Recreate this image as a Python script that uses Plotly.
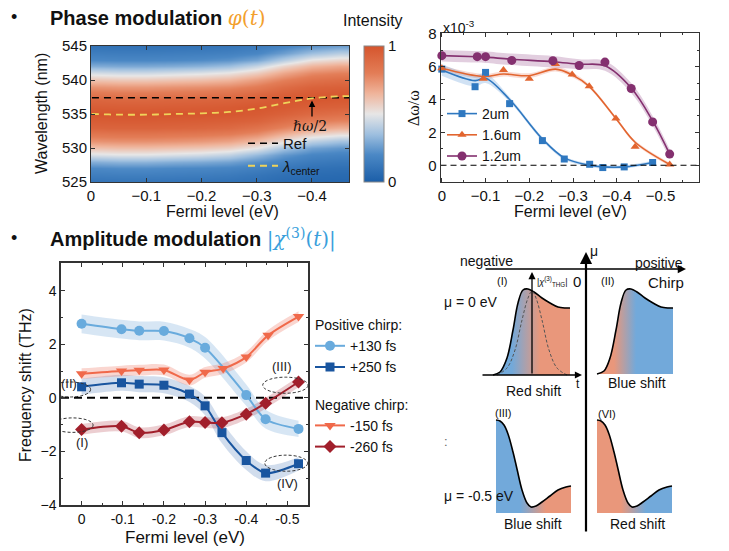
import numpy as np
import plotly.graph_objects as go

# figure fills the whole 729x551 window; the page's default body margin is removed after plotting
OFF = 0
W, H = 729, 551
FONT = "Arial, Liberation Sans, sans-serif"
SERIF = "DejaVu Serif, Liberation Serif, serif"


def px(x):
    return (x - OFF) / W


def py(y):
    return 1 - (y - OFF) / H

# ---------------- Panel 1: wavelength map vs Fermi level ----------------
fermi_map = [0.02, 0.0, -0.05, -0.10, -0.15, -0.20, -0.25, -0.30, -0.35, -0.40, -0.45, -0.50]
lambda_center = [535.0, 535.0, 534.9, 534.9, 535.0, 535.1, 535.3, 535.8, 536.6, 537.3, 537.6, 537.6]
wavelengths = list(range(521, 550))
profile_offset = [-16, -12, -10, -8, -7, -5.8, -4, -2, 0, 2, 4, 5.8, 7, 8, 10, 12, 16]
profile_val = [0.0, 0.05, 0.1, 0.2, 0.3, 0.5, 0.74, 0.92, 1.0, 0.92, 0.74, 0.5, 0.3, 0.2, 0.1, 0.05, 0.0]
ref_wavelength = 537.4

# ---------------- Panel 2: Δω/ω vs Fermi level (x10^-3) ----------------
x_2um = [0, -0.076, -0.1, -0.155, -0.23, -0.28, -0.338, -0.368, -0.417, -0.482]
y_2um = [5.85, 4.78, 5.65, 3.75, 1.5, 0.38, 0.06, -0.14, -0.1, 0.17]
fit_2um = [5.8, 5.15, 5.3, 4.0, 1.6, 0.45, 0.0, -0.1, -0.1, 0.17]
err_2um = [0.35, 0.35, 0.3, 0.15, 0.12, 0.1, 0.1, 0.1, 0.1, 0.1]

x_16um = [0, -0.095, -0.141, -0.2, -0.26, -0.298, -0.337, -0.398, -0.442, -0.521]
y_16um = [5.9, 5.27, 5.79, 5.27, 6.16, 5.52, 4.81, 2.85, 1.13, 0.04]
fit_16um = [5.9, 5.4, 5.55, 5.45, 5.85, 5.5, 4.8, 2.85, 1.4, 0.05]
err_16um = [0.15, 0.15, 0.15, 0.15, 0.15, 0.15, 0.12, 0.1, 0.1, 0.1]

x_12um = [0, -0.081, -0.1, -0.16, -0.254, -0.314, -0.373, -0.433, -0.482, -0.521]
y_12um = [6.67, 6.61, 6.61, 6.38, 6.36, 6.07, 6.28, 4.67, 2.64, 0.68]
fit_12um = [6.67, 6.6, 6.58, 6.45, 6.3, 6.15, 6.05, 4.7, 2.7, 0.68]
err_12um = [0.35, 0.35, 0.35, 0.35, 0.35, 0.3, 0.3, 0.3, 0.3, 0.3]

# ---------------- Panel 3: frequency shift vs Fermi level ----------------
pos130_x = [0, -0.097, -0.14, -0.2, -0.262, -0.3, -0.4, -0.447, -0.527]
pos130_y = [2.76, 2.56, 2.5, 2.49, 2.22, 1.87, 0.1, -0.8, -1.16]
pos130_err = [0.35, 0.35, 0.35, 0.35, 0.35, 0.4, 0.4, 0.35, 0.3]

pos250_x = [0, -0.097, -0.14, -0.2, -0.262, -0.3, -0.341, -0.4, -0.447, -0.527]
pos250_y = [0.41, 0.56, 0.51, 0.47, 0.14, -0.3, -1.3, -2.34, -2.81, -2.46]
pos250_err = [0.3, 0.3, 0.3, 0.3, 0.3, 0.35, 0.4, 0.35, 0.3, 0.25]

neg150_x = [0, -0.097, -0.14, -0.2, -0.262, -0.3, -0.344, -0.4, -0.453, -0.527]
neg150_y = [0.9, 1.0, 1.03, 1.04, 0.66, 0.95, 1.09, 1.52, 2.33, 3.03]
neg150_err = [0.2] * 10

neg260_x = [0, -0.097, -0.14, -0.2, -0.262, -0.3, -0.341, -0.4, -0.447, -0.527]
neg260_y = [-1.18, -1.06, -1.3, -1.2, -0.89, -0.92, -0.93, -0.61, -0.2, 0.59]
neg260_err = [0.2] * 10

# dashed ellipses: (label, center x, center y, half width, half height, label x, label y)
ellipses = [
    ("(II)", 0.028, 0.31, 0.05, 0.28, 0.03, 0.55),
    ("(I)", 0.022, -1.02, 0.05, 0.27, 0.0, -1.67),
    ("(III)", -0.495, 0.47, 0.055, 0.3, -0.487, 1.15),
    ("(IV)", -0.497, -2.44, 0.052, 0.3, -0.5, -3.2),
]

# ---------------- Panel 4: schematic (page-pixel coordinates) ----------------
BLUE_F = "#72a9da"
ORANGE_F = "#e9977b"
env_I_x = [493, 500, 507, 513, 518, 523, 528, 534, 542, 550, 558, 565, 570]
env_I_y = [375, 372, 358, 330, 303, 290, 289, 292, 298, 303, 307, 308, 308]
env_II_x = [597, 604, 610, 616, 621, 626, 631, 637, 645, 653, 661, 668, 673]
env_II_y = [374, 371, 358, 330, 303, 290, 289, 292, 298, 303, 307, 308, 308]
env_III_x = [496, 500, 504, 508, 513, 517, 522, 527, 531, 536, 542, 550, 558, 566, 571]
env_III_y = [420, 421, 425, 434, 452, 469, 490, 503, 507, 506, 502, 496, 490, 487, 486]
env_VI_x = [597, 601, 605, 609, 614, 618, 623, 628, 632, 637, 643, 651, 659, 667, 672]
env_VI_y = [420, 421, 425, 434, 452, 469, 490, 503, 507, 506, 502, 496, 490, 487, 486]
gauss_x = [497, 507, 515, 522, 528, 532, 536, 542, 549, 557, 567]
gauss_y = [375, 368, 350, 320, 298, 291, 298, 320, 350, 368, 375]

fig = go.Figure()

# ---- heatmap
z = [[float(np.interp(w - c, profile_offset, profile_val)) for c in lambda_center] for w in wavelengths]
cscale = [[0, "#1b5ea8"], [0.2, "#4b88c5"], [0.35, "#9ebfdf"], [0.5, "#e7e6e6"],
          [0.65, "#efb49b"], [0.8, "#e37d57"], [1, "#d5552d"]]
fig.add_trace(go.Heatmap(
    x=fermi_map, y=wavelengths, z=z, zsmooth="best", zmin=0, zmax=1,
    colorscale=cscale, xaxis="x", yaxis="y", showlegend=False,
    colorbar=dict(x=px(364), xanchor="left", y=py(46), yanchor="top", xpad=0, ypad=0,
                  len=136, lenmode="pixels", thickness=20, outlinecolor="#888",
                  outlinewidth=1, tickvals=[0, 1], ticks="", ticklen=0,
                  tickfont=dict(size=15, family=FONT, color="#111")),
))
fig.add_trace(go.Scatter(
    x=[fermi_map[0], fermi_map[-1]], y=[ref_wavelength, ref_wavelength], mode="lines",
    line=dict(color="black", width=1.6, dash="7px,5px"), name="Ref",
    xaxis="x", yaxis="y", legend="legend"))
fig.add_trace(go.Scatter(
    x=fermi_map, y=lambda_center, mode="lines", line_shape="spline",
    line=dict(color="#efd35a", width=1.8, dash="7px,5px"),
    name="<i>λ</i><sub>center</sub>", xaxis="x", yaxis="y", legend="legend"))

# ---- top-right
def band(xs, fit, err, color, xa, ya):
    lo = [f - e for f, e in zip(fit, err)]
    hi = [f + e for f, e in zip(fit, err)]
    fig.add_trace(go.Scatter(x=xs, y=lo, mode="lines", line=dict(width=0, shape="spline"),
                             showlegend=False, hoverinfo="skip", xaxis=xa, yaxis=ya))
    fig.add_trace(go.Scatter(x=xs, y=hi, mode="lines", line=dict(width=0, shape="spline"),
                             fill="tonexty", fillcolor=color, showlegend=False,
                             hoverinfo="skip", xaxis=xa, yaxis=ya))


band(x_12um, fit_12um, err_12um, "rgba(150,80,140,0.28)", "x2", "y2")
band(x_16um, fit_16um, err_16um, "rgba(230,110,80,0.25)", "x2", "y2")
band(x_2um, fit_2um, err_2um, "rgba(70,140,210,0.25)", "x2", "y2")

series_tr = [
    ("2um", x_2um, y_2um, fit_2um, "#2f78c0", "square", 7),
    ("1.6um", x_16um, y_16um, fit_16um, "#e2652f", "triangle-up", 8),
    ("1.2um", x_12um, y_12um, fit_12um, "#84306f", "circle", 9),
]
for name, xs, ys, fit, col, sym, ms in series_tr:
    fig.add_trace(go.Scatter(x=xs, y=fit, mode="lines", line=dict(color=col, width=1.6, shape="spline"),
                             showlegend=False, hoverinfo="skip", xaxis="x2", yaxis="y2"))
for name, xs, ys, fit, col, sym, ms in series_tr:
    fig.add_trace(go.Scatter(x=xs, y=ys, mode="markers", name=name,
                             marker=dict(color=col, symbol=sym, size=ms),
                             cliponaxis=False, xaxis="x2", yaxis="y2", showlegend=False))
    fig.add_trace(go.Scatter(x=[None], y=[None], mode="lines+markers", name=name,
                             marker=dict(color=col, symbol=sym, size=ms),
                             line=dict(color=col, width=1.6),
                             xaxis="x2", yaxis="y2", legend="legend2"))
fig.add_trace(go.Scatter(x=[0.003, -0.588], y=[0, 0], mode="lines",
                         line=dict(color="black", width=1.2, dash="6px,4px"),
                         showlegend=False, hoverinfo="skip", xaxis="x2", yaxis="y2"))

# ---- bottom-left
band(pos130_x, pos130_y, pos130_err, "rgba(110,165,215,0.28)", "x3", "y3")
band(pos250_x, pos250_y, pos250_err, "rgba(70,120,185,0.25)", "x3", "y3")
band(neg150_x, neg150_y, neg150_err, "rgba(240,120,100,0.3)", "x3", "y3")
band(neg260_x, neg260_y, neg260_err, "rgba(180,60,70,0.25)", "x3", "y3")
fig.add_trace(go.Scatter(x=[0.05, -0.55], y=[0, 0], mode="lines",
                         line=dict(color="black", width=2, dash="8px,5px"),
                         showlegend=False, hoverinfo="skip", xaxis="x3", yaxis="y3"))

series_bl = [
    ("+130 fs", "Positive chirp:", "pos", pos130_x, pos130_y, "#69abdd", "circle", 10),
    ("+250 fs", "Positive chirp:", "pos", pos250_x, pos250_y, "#19559f", "square", 9),
    ("-150 fs", "Negative chirp:", "neg", neg150_x, neg150_y, "#f0694a", "triangle-down", 10),
    ("-260 fs", "Negative chirp:", "neg", neg260_x, neg260_y, "#a11f2b", "diamond", 10),
]
for name, gt, grp, xs, ys, col, sym, ms in series_bl:
    fig.add_trace(go.Scatter(x=xs, y=ys, mode="lines+markers", name=name,
                             line=dict(color=col, width=2, shape="spline", smoothing=0.8),
                             marker=dict(color=col, symbol=sym, size=ms),
                             legendgroup=grp,
                             legendgrouptitle=dict(text=gt, font=dict(size=14, family=FONT, color="#111")),
                             xaxis="x3", yaxis="y3", legend="legend3"))

shapes = []
annotations = []
for lab, cx, cy, hw, hh, lx, ly in ellipses:
    shapes.append(dict(type="circle", xref="x3", yref="y3", x0=cx - hw, x1=cx + hw,
                       y0=cy - hh, y1=cy + hh, line=dict(color="#333", width=1, dash="3px,2px")))
    annotations.append(dict(xref="x3", yref="y3", x=lx, y=ly, text=lab, showarrow=False,
                            font=dict(size=13, family=FONT, color="#222")))

# ---- schematic
def envelope(xs, ys, base, c_left, c_right, g0, g1):
    fig.add_trace(go.Scatter(
        x=xs + [xs[-1], xs[0]], y=ys + [base, base], mode="lines", fill="toself",
        line=dict(width=0), fillgradient=dict(type="horizontal", start=g0, stop=g1,
                                              colorscale=[[0, c_left], [1, c_right]]),
        showlegend=False, hoverinfo="skip", xaxis="x4", yaxis="y4"))
    fig.add_trace(go.Scatter(x=xs, y=ys, mode="lines", line=dict(color="black", width=1.6, shape="spline"),
                             showlegend=False, hoverinfo="skip", xaxis="x4", yaxis="y4"))


envelope(env_I_x, env_I_y, 375, BLUE_F, ORANGE_F, 512, 540)
envelope(env_II_x, env_II_y, 374, ORANGE_F, BLUE_F, 614, 636)
envelope(env_III_x, env_III_y, 513, BLUE_F, ORANGE_F, 520, 546)
envelope(env_VI_x, env_VI_y, 513, ORANGE_F, BLUE_F, 621, 646)
fig.add_trace(go.Scatter(x=gauss_x, y=gauss_y, mode="lines",
                         line=dict(color="#555", width=1, dash="3px,2px", shape="spline"),
                         showlegend=False, hoverinfo="skip", xaxis="x4", yaxis="y4"))


def arrow(x0, y0, x1, y1, w=1.5):
    annotations.append(dict(xref="x4", yref="y4", axref="x4", ayref="y4", x=x1, y=y1, ax=x0, ay=y0,
                            text="", showarrow=True, arrowhead=2, arrowsize=1.1, arrowwidth=w,
                            arrowcolor="black"))


arrow(484, 269, 686, 269, 1.5)
arrow(586, 533, 586, 252, 2.2)
arrow(481, 375, 582, 375, 1.3)
arrow(532, 375, 532, 272, 1.3)


def t4(x, y, s, size=14, anchor="center", family=FONT, color="#111"):
    annotations.append(dict(xref="x4", yref="y4", x=x, y=y, text=s, showarrow=False,
                            xanchor=anchor, yanchor="middle", font=dict(size=size, family=family, color=color)))


t4(458, 261, "negative", 14, "left")
t4(685, 263, "positive", 14, "right")
t4(686, 282, "Chirp", 15, "right")
t4(577, 281, "0", 15)
t4(594, 251, "μ", 14)
t4(442, 302, "μ = 0 eV", 14, "left")
t4(442, 496, "μ = -0.5 eV", 14, "left")
t4(442, 441, ":", 13, "left", color="#666")
t4(502, 281, "(I)", 11)
t4(607, 281, "(II)", 11)
t4(503, 413, "(III)", 11)
t4(607, 414, "(VI)", 11)
t4(535, 281, "|<i>χ</i><sup>(3)</sup><sub>THG</sub>|", 9, "left")
t4(578, 384, "t", 12)
t4(533, 391, "Red shift", 14)
t4(637, 383, "Blue shift", 14)
t4(533, 524, "Blue shift", 14)
t4(637, 524, "Red shift", 14)

# ---- paper texts
def tp(x, y, s, size=15, anchor="center", angle=0, family=FONT, color="#111"):
    annotations.append(dict(xref="paper", yref="paper", x=px(x), y=py(y), text=s, showarrow=False,
                            xanchor=anchor, yanchor="middle", textangle=angle,
                            font=dict(size=size, family=family, color=color)))


tp(14, 17, "•", 18)
tp(48, 18, "<b>Phase modulation</b> <span style='color:#f3a02c;font-family:DejaVu Serif'><i>φ</i>(<i>t</i>)</span>", 20, "left")
tp(14, 238, "•", 18)
tp(48, 239, "<b>Amplitude modulation</b> <span style='color:#3a9fdc;font-family:DejaVu Serif'>|<i>χ</i><sup>(3)</sup>(<i>t</i>)|</span>", 20, "left")
tp(373, 21, "Intensity", 16)
tp(42, 114, "Wavelength (nm)", 16, angle=-90)
tp(222, 211, "Fermi level (eV)", 16)
tp(441, 27, "x10<sup>-3</sup>", 14, "left")
tp(413, 108, "Δω/ω", 16, angle=-90, family="Liberation Serif, serif")
tp(570, 211, "Fermi level (eV)", 16)
tp(25, 385, "Frequency shift (THz)", 16, angle=-90)
tp(185, 537, "Fermi level (eV)", 17)

# hbar annotation on heatmap
annotations.append(dict(xref="x", yref="y", axref="x", ayref="y", x=-0.4, y=537.0, ax=-0.4, ay=534.4,
                        text="", showarrow=True, arrowhead=2, arrowsize=1, arrowwidth=1.3, arrowcolor="black"))
annotations.append(dict(xref="x", yref="y", x=-0.396, y=533.2, text="<i>ℏω</i>/2", showarrow=False,
                        font=dict(size=14, family=SERIF, color="#111")))

axis_common = dict(showline=True, linecolor="#333", linewidth=1, mirror="ticks", ticks="inside",
                   tickcolor="#333", ticklen=4, showgrid=False, zeroline=False, automargin=False,
                   tickfont=dict(size=15, family=FONT, color="#111"))
leg_common = dict(xanchor="left", yanchor="top", bgcolor="rgba(0,0,0,0)",
                  font=dict(size=14, family=FONT, color="#111"), itemwidth=30)

fig.update_layout(
    width=W, height=H, margin=dict(l=0, r=0, t=0, b=0, pad=0, autoexpand=False),
    paper_bgcolor="white", plot_bgcolor="rgba(0,0,0,0)",
    font=dict(family=FONT, color="#111"),
    xaxis=dict(domain=[px(91), px(349)], range=[0, -0.467], anchor="y",
               tickvals=[0, -0.1, -0.2, -0.3, -0.4], **axis_common),
    yaxis=dict(domain=[py(182), py(46)], range=[525, 545], anchor="x",
               tickvals=[525, 530, 535, 540, 545], **axis_common),
    xaxis2=dict(domain=[px(440.5), px(699)], range=[0.003, -0.588], anchor="y2",
                tickvals=[0, -0.1, -0.2, -0.3, -0.4, -0.5],
                minor=dict(ticks="inside", tickvals=[-0.05, -0.15, -0.25, -0.35, -0.45, -0.55], ticklen=2, tickcolor="#333"),
                **axis_common),
    yaxis2=dict(domain=[py(181.7), py(33.3)], range=[-1, 8.03], anchor="x2",
                tickvals=[0, 2, 4, 6, 8],
                minor=dict(ticks="inside", tickvals=[-1, 1, 3, 5, 7], ticklen=2, tickcolor="#333"),
                **axis_common),
    xaxis3=dict(domain=[px(61), px(308)], range=[0.05, -0.55], anchor="y3",
                tickvals=[0, -0.1, -0.2, -0.3, -0.4, -0.5],
                ticktext=["0", "-0.1", "-0.2", "-0.3", "-0.4", "-0.5"],
                minor=dict(ticks="inside", tickvals=[-0.05, -0.15, -0.25, -0.35, -0.45], ticklen=2, tickcolor="#333"),
                **{**axis_common, "linewidth": 1.5, "tickfont": dict(size=14, family=FONT, color="#111")}),
    yaxis3=dict(domain=[py(505), py(263)], range=[-4, 5.03], anchor="x3",
                tickvals=[-4, -2, 0, 2, 4],
                minor=dict(ticks="inside", tickvals=[-3, -1, 1, 3, 5], ticklen=2, tickcolor="#333"),
                **{**axis_common, "linewidth": 1.5, "tickfont": dict(size=14, family=FONT, color="#111")}),
    xaxis4=dict(domain=[px(430), 1], range=[430, OFF + W], anchor="y4", visible=False, fixedrange=True),
    yaxis4=dict(domain=[0, py(240)], range=[OFF + H, 240], anchor="x4", visible=False, fixedrange=True),
    legend=dict(x=px(243), y=py(127), traceorder="normal", tracegroupgap=0,
                **{**leg_common, "font": dict(size=15, family=FONT, color="#111")}),
    legend2=dict(x=px(442), y=py(98), traceorder="normal", tracegroupgap=0, **leg_common),
    legend3=dict(x=px(310), y=py(309), traceorder="grouped", tracegroupgap=16, **leg_common),
    shapes=shapes, annotations=annotations,
)

fig.write_html("out.html", config={"displayModeBar": False},
               post_script="document.body.style.margin='0';document.documentElement.style.overflow='hidden';")
